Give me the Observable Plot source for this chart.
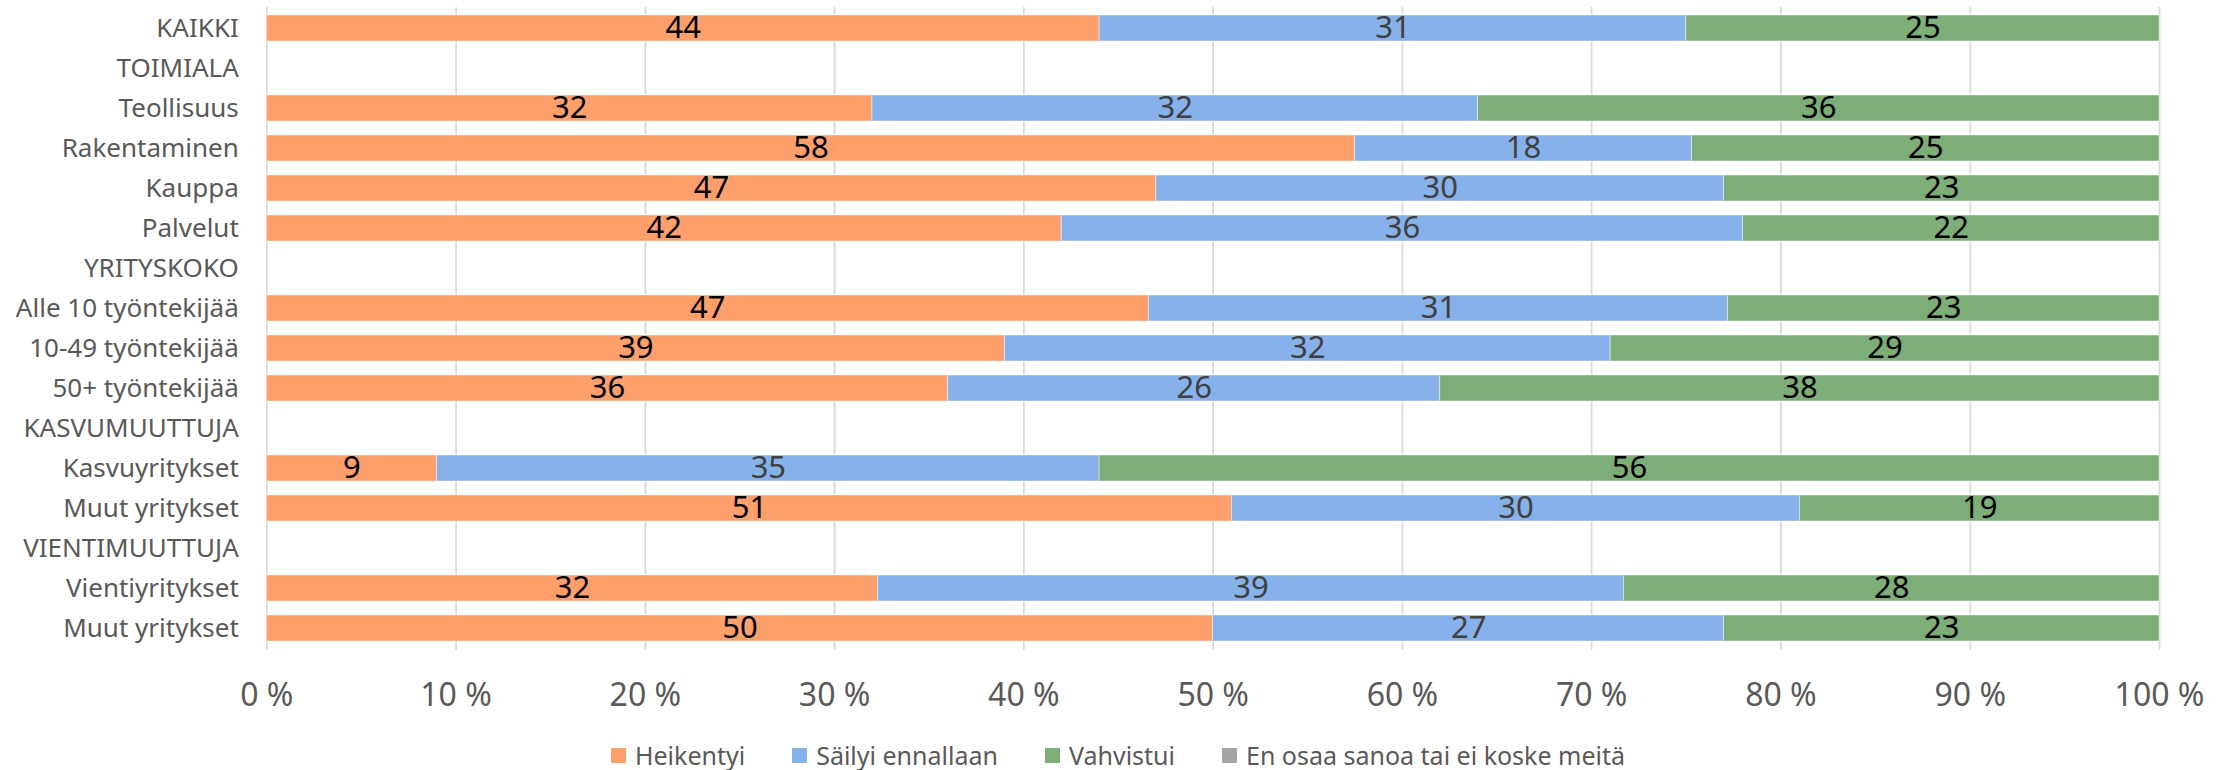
<!DOCTYPE html>
<html>
<head>
<meta charset="utf-8">
<script src="https://cdn.jsdelivr.net/npm/d3@7"></script>
<script src="https://cdn.jsdelivr.net/npm/@observablehq/plot@0.6"></script>
<style>
  html, body { margin: 0; padding: 0; background: #fff; }
  #chart svg { display: block; }
  .legend { display: flex; justify-content: center; align-items: center; gap: 47px; height: 30px; margin-top: 10px;
            font-family: "Noto Sans", sans-serif; font-size: 25px; color: #595959; }
  .legend .item { display: flex; align-items: center; gap: 9px; white-space: nowrap; }
  .legend .sw { width: 15px; height: 15px; display: inline-block; }
</style>
</head>
<body>
<div id="chart"></div>
<script>
const categories = ["KAIKKI","TOIMIALA","Teollisuus","Rakentaminen","Kauppa","Palvelut","YRITYSKOKO","Alle 10 työntekijää","10-49 työntekijää","50+ työntekijää","KASVUMUUTTUJA","Kasvuyritykset","Muut yritykset","VIENTIMUUTTUJA","Vientiyritykset","Muut yritykset"];
const heikentyi = [44, null, 32, 57.5, 47, 42, null, 46.6, 39, 36, null, 9, 51, null, 32.3, 50];
const sailyi    = [31, null, 32, 17.8, 30, 36, null, 30.6, 32, 26, null, 35, 30, null, 39.4, 27];
const vahvistui = [25, null, 36, 24.7, 23, 22, null, 22.8, 29, 38, null, 56, 19, null, 28.3, 23];
const enOsaa    = [0, null, 0, 0, 0, 0, null, 0, 0, 0, null, 0, 0, null, 0, 0];
const seriesNames = ["Heikentyi", "Säilyi ennallaan", "Vahvistui", "En osaa sanoa tai ei koske meitä"];
const xTicks = [0, 10, 20, 30, 40, 50, 60, 70, 80, 90, 100];

const seriesColors = ["#FF9F6B", "#86B1EA", "#7DAE78", "#A5A5A5"];
const labelColors = ["#000000", "#404040", "#000000", "#404040"];

const seriesValues = [heikentyi, sailyi, vahvistui, enOsaa];
const rows = [];
categories.forEach((c, i) => {
  let acc = 0;
  seriesValues.forEach((vals, s) => {
    const v = vals[i];
    if (v == null) return;
    rows.push({key: i, series: seriesNames[s], s, value: v, x1: acc, x2: acc + v});
    acc += v;
  });
});

const W = 2236, H = 730;
const labelMarks = seriesNames.map((name, s) =>
  Plot.text(rows.filter(d => d.s === s && d.value > 0), {
    x: d => (d.x1 + d.x2) / 2, y: "key",
    text: d => String(Math.round(d.value)),
    fill: labelColors[s], fontSize: 31, lineAnchor: "middle"
  })
);

const chart = Plot.plot({
  width: W, height: H,
  marginTop: 7, marginBottom: H - 649.7, marginLeft: 266.3, marginRight: W - 2159,
  style: {fontFamily: "Noto Sans, sans-serif", background: "#fff"},
  x: {domain: [0, 100], ticks: xTicks},
  y: {domain: d3.range(categories.length), paddingInner: 0.345, paddingOuter: 0.174},
  color: {domain: seriesNames, range: seriesColors},
  marks: [
    Plot.gridX(xTicks, {stroke: "#d9d9d9", strokeOpacity: 1, strokeWidth: 1.75}),
    Plot.barX(rows, {x1: "x1", x2: "x2", y: "key", fill: "series", stroke: "#fff", strokeWidth: 0.75, strokeOpacity: 0.6}),
    ...labelMarks,
    Plot.axisX({ticks: xTicks, tickSize: 0, tickPadding: 33, fontSize: 32, fill: "#595959", label: null, tickFormat: d => d + " %"}),
    Plot.axisY({tickSize: 0, tickPadding: 28, fontSize: 26, fill: "#595959", label: null, tickFormat: i => categories[i]})
  ]
});
document.getElementById("chart").appendChild(chart);

const legend = document.createElement("div");
legend.className = "legend";
seriesNames.forEach((n, s) => {
  const it = document.createElement("span");
  it.className = "item";
  const sw = document.createElement("span");
  sw.className = "sw";
  sw.style.background = seriesColors[s];
  const tx = document.createElement("span");
  tx.textContent = n;
  it.appendChild(sw); it.appendChild(tx);
  legend.appendChild(it);
});
document.body.appendChild(legend);
</script>
</body>
</html>
